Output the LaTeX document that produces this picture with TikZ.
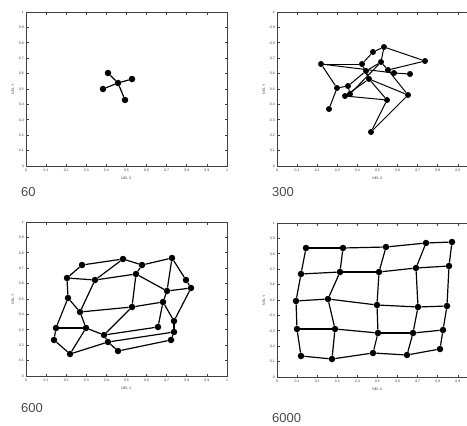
\documentclass[tikz,border=0pt]{standalone}
\usepackage{fontspec}
\setmainfont{Liberation Sans}
\tikzset{
 dot/.style={circle,fill=black,inner sep=0pt,minimum size=6.5pt},
 edge/.style={draw=black,line width=1.2pt},
 frame/.style={draw=black!75,line width=1pt},
 tickmark/.style={draw=black!75,line width=0.7pt},
 ticklab/.style={font=\fontsize{3.5}{3.5}\selectfont,text=black!75,inner sep=0.5pt},
 axlab/.style={font=\fontsize{3.5}{3.5}\selectfont,text=black!75,inner sep=0.5pt},
 panlab/.style={font=\fontsize{13}{13}\selectfont,text=black!70,inner sep=0pt,anchor=north west}
}
\newcommand\myframe[3]{%
 \begin{scope}[shift={(#1,#2)}]
  \draw[frame] (0,0) rectangle (201,154);
  \foreach \i/\t in {0/0,1/0.1,2/0.2,3/0.3,4/0.4,5/0.5,6/0.6,7/0.7,8/0.8,9/0.9,10/1}{
   \draw[tickmark] ({20.1*\i},154) -- ++(0,-2.5);
   \draw[tickmark] ({20.1*\i},0) -- ++(0,2.5);
   \draw[tickmark] (0,{15.4*\i}) -- ++(2.5,0);
   \draw[tickmark] (201,{15.4*\i}) -- ++(-2.5,0);
   \node[ticklab,anchor=east] at (-1.5,{154-15.4*\i}) {\t};
  }
  \foreach \i/\t in {#3}{
   \node[ticklab,anchor=north] at ({20.1*\i},156) {\t};
  }
  \node[axlab] at (100.5,166) {NEL X};
  \node[axlab,rotate=90] at (-13,77) {NEL Y};
 \end{scope}}
\begin{document}
\begin{tikzpicture}[x=1pt,y=-1pt]
\useasboundingbox (0,0) rectangle (467,426);
\clip (0,0) rectangle (467,426);
\fill[white] (0,0) rectangle (467,426);
\myframe{26}{12}{0/0,1/0.1,2/0.2,3/0.3,4/0.4,5/0.5,6/0.6,7/0.7,8/0.8,9/0.9,10/1}
\myframe{277}{12}{0/0,1/0.1,2/0.2,3/0.3,4/0.4,5/0.5,6/0.6,7/0.7,8/0.8,9/0.9}
\myframe{26}{222}{0/0,1/0.1,2/0.2,3/0.3,4/0.4,5/0.5,6/0.6,7/0.7,8/0.8,9/0.9,10/1}
\myframe{277}{223}{0/0,1/0.1,2/0.2,3/0.3,4/0.4,5/0.5,6/0.6,7/0.7,8/0.8,9/0.9}
% labels
\node[panlab] (l1) at (21,187) {60};
\node[panlab] (l2) at (272,187) {300};
\node[panlab] (l3) at (21,403) {600};
\node[panlab] (l4) at (272,413) {6000};
% panel 1
\node[dot] (a0) at (118,83) {};
\node[dot] (a1) at (108,73) {};
\node[dot] (a2) at (132,79) {};
\node[dot] (a3) at (103,89) {};
\node[dot] (a4) at (125,100) {};
\foreach \n in {a1,a2,a3,a4} \draw[edge] (a0) -- (\n);
% panel 2
\begin{scope}[every node/.style={dot,minimum size=6pt}]
\node (bA) at (321,64) {};
\node (bB) at (362,64) {};
\node (bC) at (373,52) {};
\node (bD) at (384,47) {};
\node (bE) at (425,61) {};
\node (bF) at (381,62) {};
\node (bG) at (366,71) {};
\node (bH) at (369,79) {};
\node (bI) at (388,70) {};
\node (bJ) at (394,73) {};
\node (bK) at (410,74) {};
\node (bL) at (408,95) {};
\node (bM) at (387,100) {};
\node (bN) at (348,86) {};
\node (bO) at (337,88) {};
\node (bP) at (345,96) {};
\node (bQ) at (350,94) {};
\node (bR) at (329,109) {};
\node (bS) at (371,132) {};
\end{scope}
\foreach \u/\v in {bA/bB,bA/bJ,bA/bO,bO/bR,bO/bN,bN/bQ,bQ/bP,bP/bH,bN/bG,bQ/bF,bB/bC,bC/bD,bD/bE,bD/bF,bE/bI,bI/bJ,bJ/bK,bF/bG,bG/bH,bB/bH,bH/bL,bH/bM,bM/bS,bL/bS,bL/bI,bM/bP,bF/bI}
  \draw[edge,line width=1pt] (\u) -- (\v);
% panel 3
\begin{scope}[every node/.style={dot}]
\node (c1) at (82,265) {};
\node (c2) at (123,259) {};
\node (c3) at (142,265) {};
\node (c4) at (172,258) {};
\node (c5) at (67,278) {};
\node (c6) at (95,280) {};
\node (c7) at (136,274) {};
\node (c8) at (186,280) {};
\node (c9) at (191,288) {};
\node (c10) at (167,291) {};
\node (c11) at (68,298) {};
\node (c12) at (163,302) {};
\node (c13) at (132,307) {};
\node (c14) at (80,312) {};
\node (c15) at (174,321) {};
\node (c16) at (56,328) {};
\node (c17) at (86,328) {};
\node (c18) at (158,327) {};
\node (c19) at (174,332) {};
\node (c20) at (104,335) {};
\node (c21) at (54,340) {};
\node (c22) at (108,342) {};
\node (c23) at (171,340) {};
\node (c24) at (118,351) {};
\node (c25) at (70,354) {};
\end{scope}
\foreach \u/\v in {c1/c2,c2/c3,c3/c4,c1/c5,c2/c6,c5/c6,c6/c7,c3/c7,c7/c10,c4/c10,c4/c8,c8/c9,c10/c9,c5/c11,c6/c14,c11/c14,c7/c13,c14/c13,c13/c12,c10/c12,c9/c15,c12/c15,c12/c18,c15/c19,c14/c17,c16/c17,c17/c20,c11/c16,c16/c21,c21/c25,c25/c22,c17/c25,c20/c22,c13/c20,c20/c18,c22/c19,c24/c23,c22/c24,c19/c23}
  \draw[edge] (\u) -- (\v);
% panel 4
\begin{scope}[every node/.style={dot}]
\node (d11) at (306,248) {};
\node (d12) at (343,248) {};
\node (d13) at (386,247) {};
\node (d14) at (426,243) {};
\node (d15) at (452,242) {};
\node (d21) at (301,274) {};
\node (d22) at (340,272) {};
\node (d23) at (379,272) {};
\node (d24) at (416,268) {};
\node (d25) at (449,266) {};
\node (d31) at (296,301) {};
\node (d32) at (328,299) {};
\node (d33) at (377,305) {};
\node (d34) at (418,307) {};
\node (d35) at (447,306) {};
\node (d41) at (297,329) {};
\node (d42) at (335,329) {};
\node (d43) at (378,333) {};
\node (d44) at (413,333) {};
\node (d45) at (443,330) {};
\node (d51) at (301,356) {};
\node (d52) at (332,359) {};
\node (d53) at (373,353) {};
\node (d54) at (407,355) {};
\node (d55) at (440,349) {};
\end{scope}
\foreach \r in {1,...,5}{
  \foreach \c [evaluate=\c as \cn using int(\c+1)] in {1,...,4}{
    \draw[edge] (d\r\c) -- (d\r\cn);
  }
}
\foreach \c in {1,...,5}{
  \foreach \r [evaluate=\r as \rn using int(\r+1)] in {1,...,4}{
    \draw[edge] (d\r\c) -- (d\rn\c);
  }
}
\end{tikzpicture}
\end{document}
